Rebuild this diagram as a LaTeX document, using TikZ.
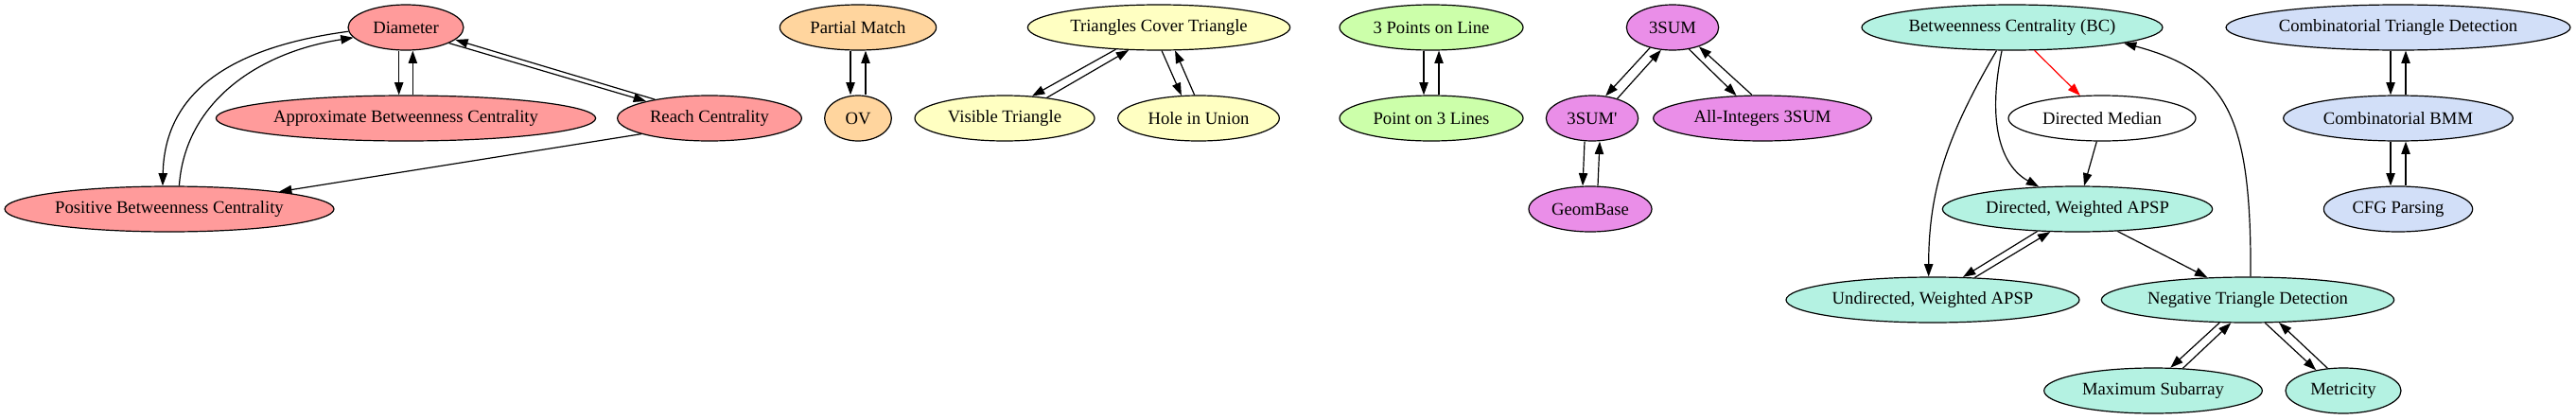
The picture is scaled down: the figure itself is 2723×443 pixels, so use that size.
\documentclass[tikz,border=0pt]{standalone}
\usepackage{fontspec}
\setmainfont{Liberation Serif}
\usetikzlibrary{shapes.geometric,arrows.meta}
\definecolor{probred}{HTML}{FF9B9B}
\definecolor{probora}{HTML}{FFD59E}
\definecolor{probyel}{HTML}{FFFFC2}
\definecolor{probgre}{HTML}{CCFFAA}
\definecolor{probvio}{HTML}{EA8EE8}
\definecolor{probtea}{HTML}{B4F2E2}
\definecolor{probblu}{HTML}{D2DFF8}

\begin{document}
\begin{tikzpicture}[x=0.75pt,y=-0.75pt,
  prob/.style={ellipse, draw, line width=0.9pt, inner sep=0pt, minimum height=36pt, font=\fontsize{14}{16}\selectfont},
  redprob/.style={prob, fill=probred},
  oraprob/.style={prob, fill=probora},
  yelprob/.style={prob, fill=probyel},
  greprob/.style={prob, fill=probgre},
  vioprob/.style={prob, fill=probvio},
  teaprob/.style={prob, fill=probtea},
  bluprob/.style={prob, fill=probblu},
  whiprob/.style={prob, fill=white},
  link/.style={-{Triangle[length=10pt,width=7pt]}, line width=0.9pt}]
\useasboundingbox (0,0) rectangle (2723,443);
\node[redprob, minimum width=91.5pt] (dia) at (429,29) {Diameter};
\node[redprob, minimum width=301pt] (abc) at (429,125) {Approximate Betweenness Centrality};
\node[redprob, minimum width=146pt] (reach) at (750,125) {Reach Centrality};
\node[redprob, minimum width=261pt] (pbc) at (179,221) {Positive Betweenness Centrality};
\node[oraprob, minimum width=124pt] (pm) at (907,29) {Partial Match};
\node[oraprob, minimum width=53pt] (ov) at (907,125) {OV};
\node[yelprob, minimum width=208pt] (tct) at (1225,29) {Triangles Cover Triangle};
\node[yelprob, minimum width=142.5pt] (vt) at (1062,125) {Visible Triangle};
\node[yelprob, minimum width=128pt] (hiu) at (1267,125) {Hole in Union};
\node[greprob, minimum width=145.5pt] (tpl) at (1513,29) {3 Points on Line};
\node[greprob, minimum width=145.5pt] (ptl) at (1513,125) {Point on 3 Lines};
\node[vioprob, minimum width=73pt] (sum) at (1768,29) {3SUM};
\node[vioprob, minimum width=73pt] (sump) at (1683,125) {3SUM\textquotesingle};
\node[vioprob, minimum width=97.5pt] (gb) at (1681,221) {GeomBase};
\node[vioprob, minimum width=173pt] (ai) at (1863,125) {All-Integers 3SUM};
\node[teaprob, minimum width=238.5pt] (bc) at (2127,29) {Betweenness Centrality (BC)};
\node[whiprob, minimum width=148.5pt] (dm) at (2222,125) {Directed Median};
\node[teaprob, minimum width=214pt] (dw) at (2196,221) {Directed, Weighted APSP};
\node[teaprob, minimum width=232.5pt] (uw) at (2043,317) {Undirected, Weighted APSP};
\node[teaprob, minimum width=232pt] (ntd) at (2376,317) {Negative Triangle Detection};
\node[teaprob, minimum width=173pt] (ms) at (2276,413) {Maximum Subarray};
\node[teaprob, minimum width=91.5pt] (met) at (2477,413) {Metricity};
\node[bluprob, minimum width=273pt] (ctd) at (2535,29) {Combinatorial Triangle Detection};
\node[bluprob, minimum width=182pt] (bmm) at (2535,125) {Combinatorial BMM};
\node[bluprob, minimum width=118pt] (cfg) at (2535,221) {CFG Parsing};
\draw[link] (dia.184) .. controls +(-128,17) and +(2,-97) .. (pbc.106);
\draw[link] (pbc.67) .. controls +(6,-87) and +(-103,16) .. (dia.191);
\draw[link] ([xshift=-5.5pt]dia.south) -- ([xshift=-5.5pt]abc.north);
\draw[link] ([xshift=5.5pt]abc.north) -- ([xshift=5.5pt]dia.south);
\draw[link] (dia.340) -- (reach.165);
\draw[link] (reach.161) -- (dia.346);
\draw[link] (reach.193) -- (pbc.9);
\draw[link] ([xshift=-6pt]pm.south) -- ([xshift=-6pt]ov.north);
\draw[link] ([xshift=6pt]ov.north) -- ([xshift=6pt]pm.south);
\draw[link] (tct.207) -- (vt.39);
\draw[link] (vt.26) -- (tct.217);
\draw[link] (tct.277) -- (hiu.127);
\draw[link] (hiu.100) -- (tct.305);
\draw[link] ([xshift=-6pt]tpl.south) -- ([xshift=-6pt]ptl.north);
\draw[link] ([xshift=6pt]ptl.north) -- ([xshift=6pt]tpl.south);
\draw[link] (sum.222) -- (sump.59);
\draw[link] (sump.38) -- (sum.243);
\draw[link] (sum.307) -- (ai.139);
\draw[link] (ai.114) -- (sum.324);
\draw[link] ([xshift=-6pt]sump.south) -- ([xshift=-6pt]gb.north);
\draw[link] ([xshift=6pt]gb.north) -- ([xshift=6pt]sump.south);
\draw[link] (bc.236) .. controls +(-51,87) and +(0,-93) .. (uw.100);
\draw[link] (bc.246) .. controls +(-16,77) and +(-40,-22) .. (dw.150);
\draw[link, red] (bc.314) -- (dm.134);
\draw[link] (dm.257) -- (dw.74);
\draw[link] (dw.209) -- (uw.37);
\draw[link] (uw.28) -- (dw.220);
\draw[link] (dw.331) -- (ntd.151);
\draw[link] (ntd.83) .. controls +(1,-173) and +(108,29) .. (bc.352);
\draw[link] (ntd.219) -- (ms.53);
\draw[link] (ms.37) -- (ntd.234);
\draw[link] (ntd.307) -- (met.143);
\draw[link] (met.125) -- (ntd.324);
\draw[link] ([xshift=-6pt]ctd.south) -- ([xshift=-6pt]bmm.north);
\draw[link] ([xshift=6pt]bmm.north) -- ([xshift=6pt]ctd.south);
\draw[link] ([xshift=-6pt]bmm.south) -- ([xshift=-6pt]cfg.north);
\draw[link] ([xshift=6pt]cfg.north) -- ([xshift=6pt]bmm.south);
\end{tikzpicture}
\end{document}
